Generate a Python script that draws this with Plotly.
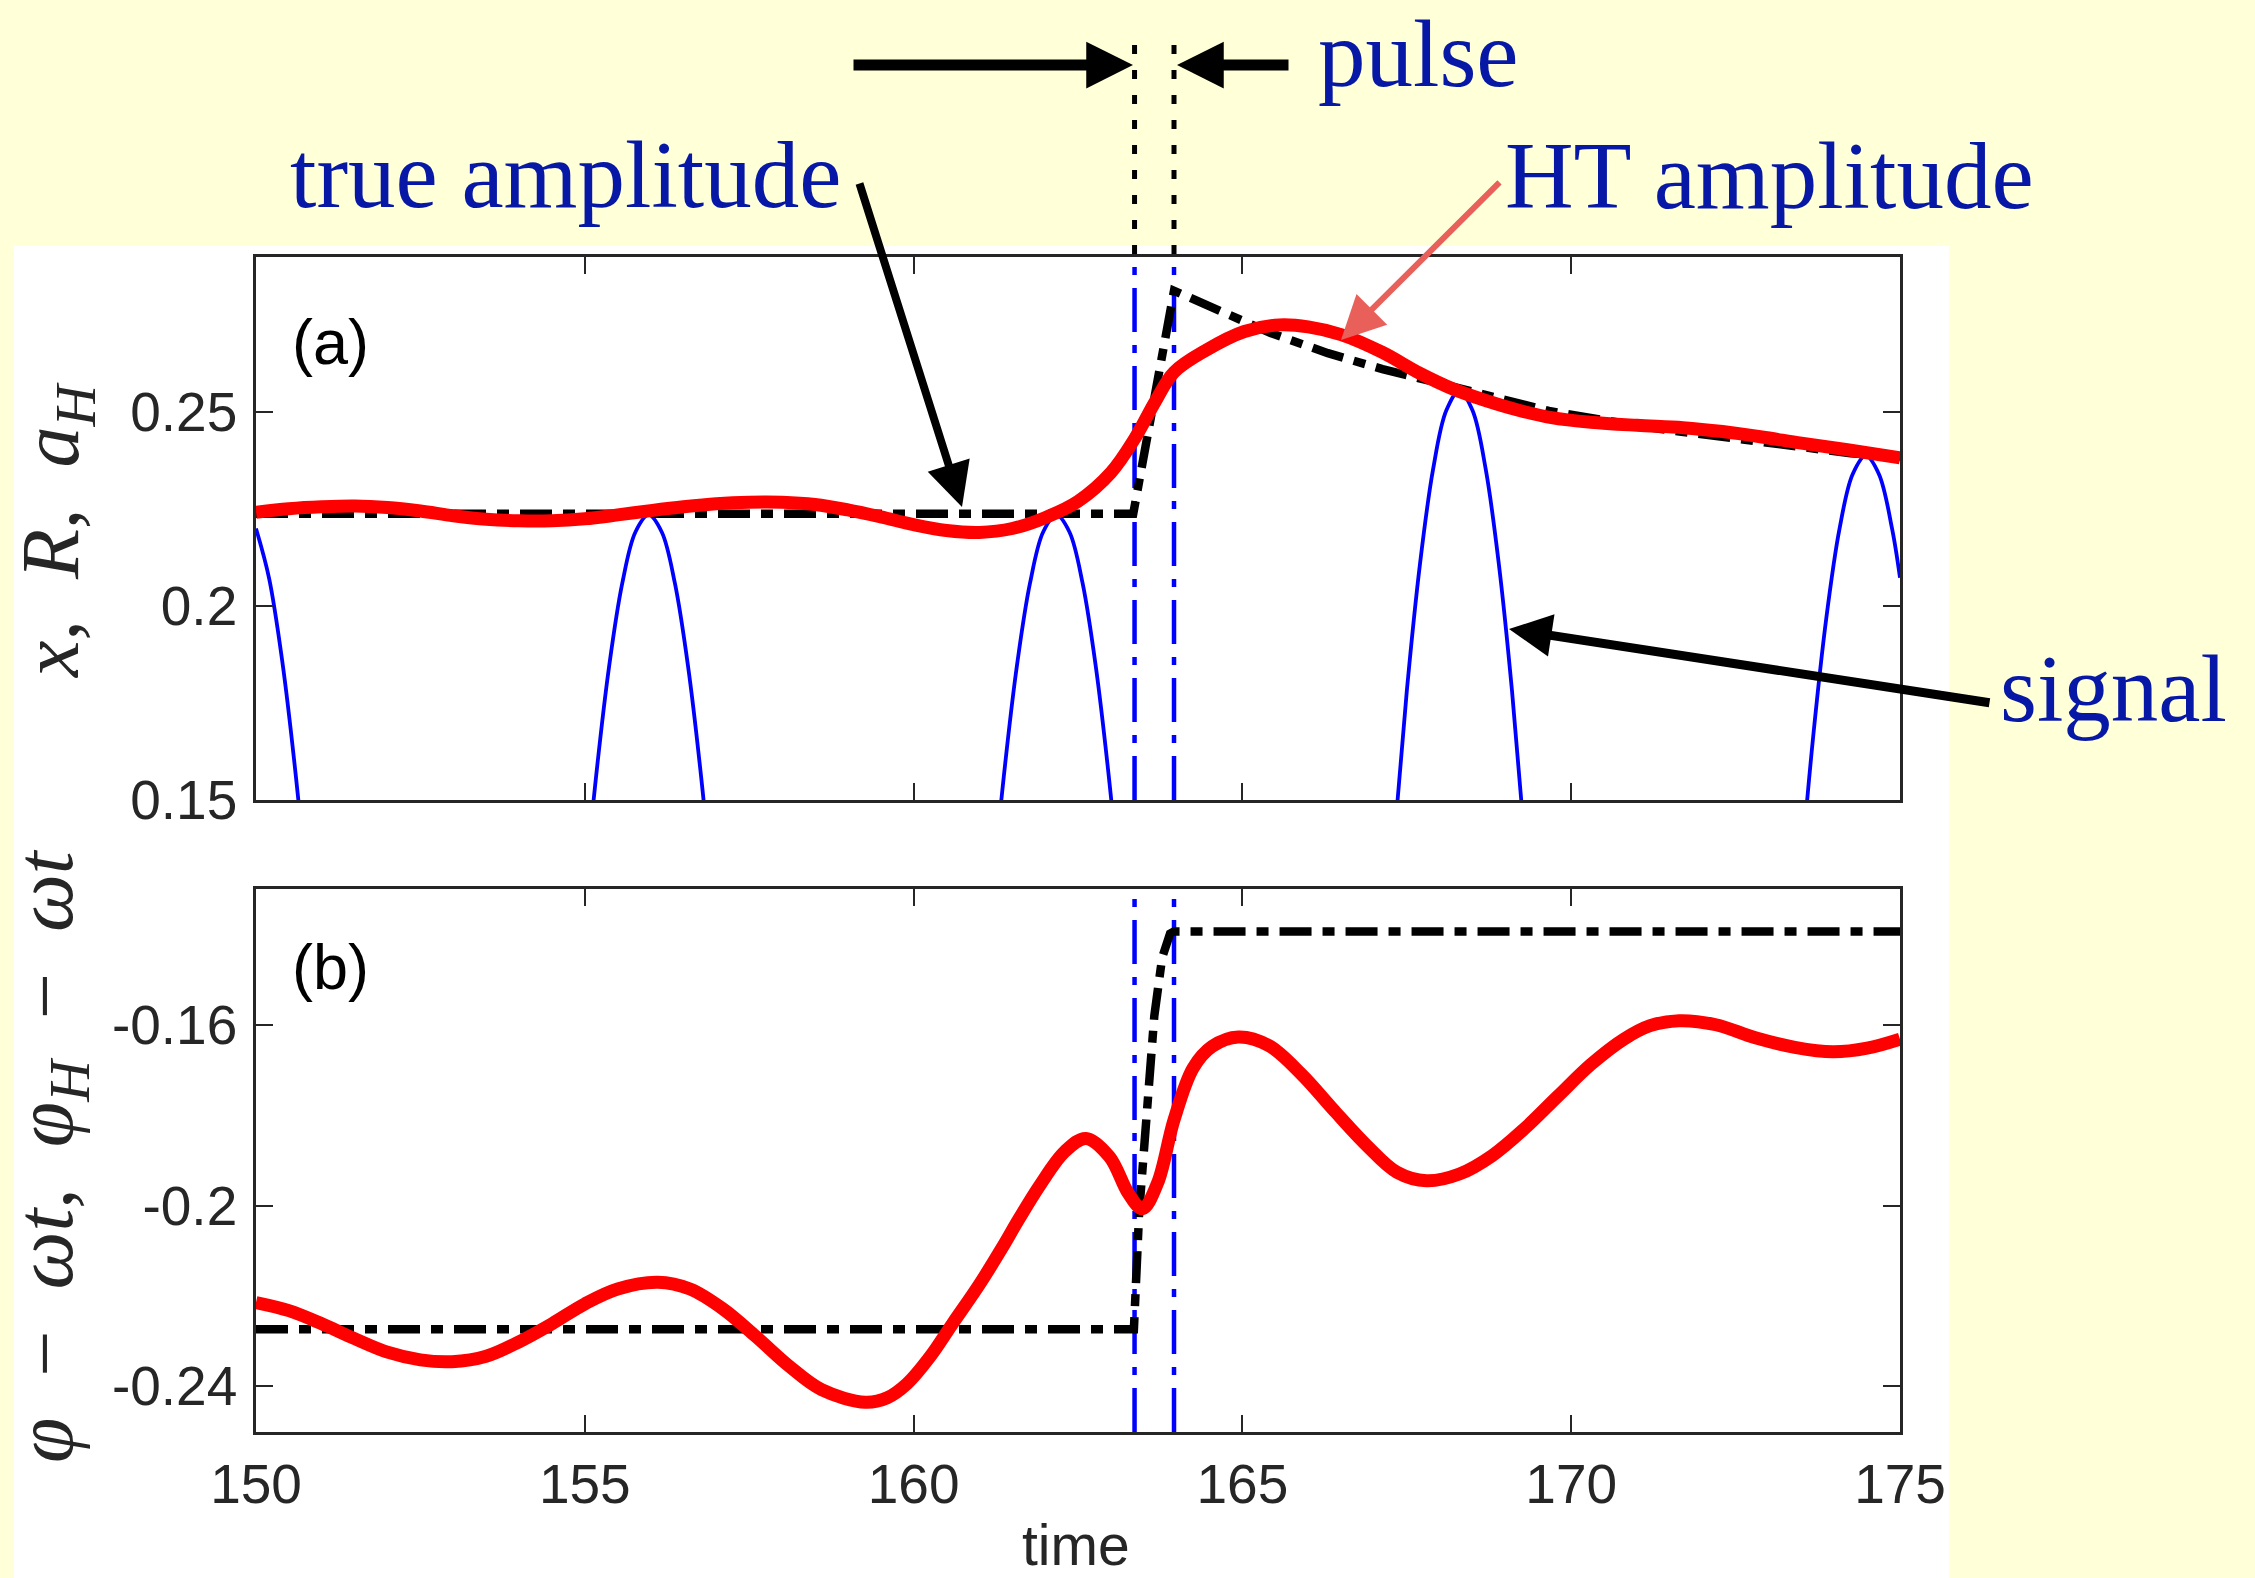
import plotly.graph_objects as go

# ---------------- data ----------------
time_ticks = [150, 155, 160, 165, 170, 175]
time_ticktext = ["150", "155", "160", "165", "170", "175"]
amp_ticks = [0.15, 0.2, 0.25]
amp_ticktext = ["0.15", "0.2", "0.25"]
phase_ticks = [-0.24, -0.2, -0.16]
phase_ticktext = ["-0.24", "-0.2", "-0.16"]

pulse_start = 163.36
pulse_end = 163.96

# (a) HT amplitude (red)
ht_amp_t = [150.0, 150.5, 151.0, 151.5, 152.0, 152.5, 153.0, 153.5, 154.0, 154.5,
            155.0, 155.5, 156.0, 156.5, 157.0, 157.5, 158.0, 158.5, 159.0, 159.5,
            160.0, 160.5, 161.0, 161.5, 162.0, 162.5, 163.0, 163.36, 163.67, 163.96,
            164.45, 165.03, 165.56, 166.0, 166.5, 167.13, 167.7, 168.2, 168.7, 169.2,
            169.7, 170.3, 171.0, 171.7, 172.3, 172.9, 173.5, 174.2, 175.0]
ht_amp_v = [0.2242, 0.2251, 0.2256, 0.2258, 0.2254, 0.2245, 0.2233, 0.2224, 0.2220, 0.2220,
            0.2225, 0.2235, 0.2246, 0.2256, 0.2264, 0.2268, 0.2268, 0.2262, 0.2248, 0.2230,
            0.2210, 0.2195, 0.2190, 0.2200, 0.2228, 0.2270, 0.2344, 0.2431, 0.2526, 0.2603,
            0.2660, 0.2708, 0.2725, 0.2720, 0.2700, 0.2654, 0.2600, 0.2560, 0.2530, 0.2505,
            0.2486, 0.2474, 0.2466, 0.2460, 0.2450, 0.2436, 0.2420, 0.2403, 0.2382]

# (a) true amplitude (black dash-dot)
true_amp_t = [150.0, 163.34, 163.96, 164.7, 165.43, 166.3, 167.13, 168.15, 169.66, 171.2,
              172.71, 174.25, 175.0]
true_amp_v = [0.2238, 0.2238, 0.2813, 0.2760, 0.2704, 0.2652, 0.2611, 0.2568, 0.2503, 0.2460,
              0.2426, 0.2394, 0.2384]

# (a) signal x(t): the visible crests
crest1_t = [150.0, 150.2, 150.4, 150.6, 150.8, 151.0]
crest1_v = [0.2200, 0.2071, 0.1857, 0.1571, 0.1225, 0.0830]
crest2_t = [154.77, 154.97, 155.17, 155.37, 155.57, 155.77, 155.97, 156.17, 156.37, 156.57,
            156.77, 156.97, 157.17]
crest2_v = [0.0810, 0.1208, 0.1558, 0.1845, 0.2059, 0.2191, 0.2235, 0.2191, 0.2059, 0.1845,
            0.1558, 0.1208, 0.0810]
crest3_t = [160.97, 161.17, 161.37, 161.57, 161.77, 161.97, 162.17, 162.37, 162.57, 162.77,
            162.97, 163.17, 163.37]
crest3_v = [0.0810, 0.1208, 0.1558, 0.1845, 0.2059, 0.2191, 0.2235, 0.2191, 0.2059, 0.1845,
            0.1558, 0.1208, 0.0810]
crest4_t = [167.1, 167.3, 167.5, 167.7, 167.9, 168.1, 168.3, 168.5, 168.7, 168.9, 169.1,
            169.3, 169.5]
crest4_v = [0.0925, 0.1380, 0.1781, 0.2108, 0.2353, 0.2504, 0.2555, 0.2504, 0.2353, 0.2108,
            0.1781, 0.1380, 0.0925]
crest5_t = [173.28, 173.48, 173.68, 173.88, 174.08, 174.28, 174.48, 174.68, 174.88, 175.0]
crest5_v = [0.0865, 0.1290, 0.1664, 0.1970, 0.2199, 0.2340, 0.2388, 0.2340, 0.2199, 0.2073]

# (b) HT phase (red)
ht_phase_t = [150.0, 150.5, 151.0, 151.5, 152.0, 152.5, 152.98, 153.5, 154.0, 154.5,
              155.0, 155.5, 156.11, 156.6, 157.1, 157.6, 158.1, 158.6, 159.27, 159.6,
              159.9, 160.25, 160.6, 161.0, 161.34, 161.6, 161.92, 162.3, 162.62, 162.98,
              163.27, 163.48, 163.71, 163.96, 164.25, 164.54, 164.94, 165.4, 165.9, 166.4,
              166.9, 167.35, 167.8, 168.3, 168.8, 169.3, 169.8, 170.3, 170.8, 171.2,
              171.64, 172.2, 172.8, 173.4, 173.98, 174.5, 175.0]
ht_phase_v = [-0.2215, -0.2233, -0.2262, -0.2295, -0.2325, -0.2342, -0.2346, -0.2334, -0.2302, -0.2262,
              -0.2218, -0.2185, -0.2170, -0.2185, -0.2229, -0.2290, -0.2355, -0.2408, -0.2436, -0.2426,
              -0.2395, -0.2335, -0.2260, -0.2175, -0.2095, -0.2030, -0.1955, -0.1880, -0.1851, -0.1892,
              -0.1974, -0.2007, -0.1950, -0.1810, -0.1695, -0.1647, -0.1626, -0.1645, -0.1709, -0.1790,
              -0.1868, -0.1926, -0.1945, -0.1930, -0.1889, -0.1828, -0.1757, -0.1687, -0.1631, -0.1601,
              -0.1590, -0.1599, -0.1628, -0.1649, -0.1659, -0.1651, -0.1631]

# (b) true phase (black dash-dot)
true_phase_t = [150.0, 163.35, 163.43, 163.54, 163.66, 163.78, 163.9, 163.96, 175.0]
true_phase_v = [-0.2274, -0.2274, -0.2015, -0.1810, -0.1580, -0.1450, -0.1397, -0.1392, -0.1392]

# ---------------- styling / layout ----------------
W, H = 2255, 1578
ML, MR, MT, MB = 256, 355, 257, 146
PW = W - ML - MR
PH = H - MT - MB


def px(x):
    return (x - ML) / PW


def py(y):
    return (H - MB - y) / PH


BLUE_TXT = "#0718A6"
AX = "#262626"
DASHDOT = "32px,11px,12px,11px"
VDASH = "44px,13px,8px,13px"

signal_t, signal_v = [], []
for ct, cv in [(crest1_t, crest1_v), (crest2_t, crest2_v), (crest3_t, crest3_v),
               (crest4_t, crest4_v), (crest5_t, crest5_v)]:
    signal_t += ct + [None]
    signal_v += cv + [None]

fig = go.Figure()
fig.add_trace(go.Scatter(x=signal_t, y=signal_v, mode="lines", xaxis="x", yaxis="y",
                         line=dict(color="#0000FF", width=3.8, shape="spline"),
                         connectgaps=False, showlegend=False))
fig.add_trace(go.Scatter(x=true_amp_t, y=true_amp_v, mode="lines", xaxis="x", yaxis="y",
                         line=dict(color="black", width=8.5, dash=DASHDOT), showlegend=False))
fig.add_trace(go.Scatter(x=ht_amp_t, y=ht_amp_v, mode="lines", xaxis="x", yaxis="y",
                         line=dict(color="#FF0000", width=13, shape="spline", smoothing=1.0),
                         showlegend=False))
fig.add_trace(go.Scatter(x=true_phase_t, y=true_phase_v, mode="lines", xaxis="x2", yaxis="y2",
                         line=dict(color="black", width=8.5, dash=DASHDOT), showlegend=False))
fig.add_trace(go.Scatter(x=ht_phase_t, y=ht_phase_v, mode="lines", xaxis="x2", yaxis="y2",
                         line=dict(color="#FF0000", width=13, shape="spline", smoothing=1.0),
                         showlegend=False))

axis_common = dict(showline=True, linecolor=AX, linewidth=2.5, mirror="ticks", ticks="inside",
                   ticklen=17, tickwidth=2, tickcolor=AX, showgrid=False, zeroline=False,
                   tickfont=dict(family="Liberation Sans, Arial", size=55, color=AX),
                   automargin=False, fixedrange=True)

shapes = [
    dict(type="rect", xref="paper", yref="paper", x0=px(14), x1=px(1949), y0=py(1578), y1=py(246),
         fillcolor="white", line=dict(width=0), layer="below"),
]
for t in (pulse_start, pulse_end):
    for xr, yr in (("x", "y domain"), ("x2", "y2 domain")):
        shapes.append(dict(type="line", xref=xr, yref=yr, x0=t, x1=t, y0=0, y1=1,
                           line=dict(color="#0000FF", width=4.5, dash=VDASH), layer="below"))
    shapes.append(dict(type="line", xref="x", yref="paper", x0=t, x1=t, y0=py(254), y1=py(43),
                       line=dict(color="black", width=5, dash="9px,16px")))


def arrow(tip, tail, color, width, size):
    return dict(x=px(tip[0]), y=py(tip[1]), xref="paper", yref="paper",
                ax=tail[0] - tip[0], ay=tail[1] - tip[1], axref="pixel", ayref="pixel",
                text="", showarrow=True, arrowhead=2, arrowsize=size, arrowwidth=width,
                arrowcolor=color)


def label(text, x, y, size=95, anchor="left"):
    return dict(text=text, x=px(x), y=py(y), xref="paper", yref="paper", xanchor=anchor,
                yanchor="middle", showarrow=False,
                font=dict(family="Liberation Serif, Times New Roman", size=size, color=BLUE_TXT))


annotations = [
    arrow((1133, 65), (852, 65), "black", 11, 0.85),
    arrow((1177, 65), (1290, 65), "black", 11, 0.85),
    arrow((962, 507), (859, 182), "black", 8, 1.1),
    arrow((1341, 340), (1501, 181), "#E9605A", 6, 1.45),
    arrow((1509, 629), (1991, 703), "black", 9, 0.95),
    label("pulse", 1316, 54),
    label("true amplitude", 288, 175),
    label("HT amplitude", 1503, 176),
    label("signal", 1998, 689),
    dict(text="(a)", x=151.14, y=0.2681, xref="x", yref="y", showarrow=False,
         xanchor="center", yanchor="middle",
         font=dict(family="Liberation Sans, Arial", size=63, color="black")),
    dict(text="(b)", x=151.14, y=-0.1472, xref="x2", yref="y2", showarrow=False,
         xanchor="center", yanchor="middle",
         font=dict(family="Liberation Sans, Arial", size=63, color="black")),
    dict(text="time", x=px(1076), y=py(1545), xref="paper", yref="paper", showarrow=False,
         xanchor="center", yanchor="middle",
         font=dict(family="Liberation Sans, Arial", size=57, color=AX)),
    dict(text="<i>x</i>,\u2002<i>R</i>,\u2002<i>a</i><sub><i>H</i></sub>",
         x=px(56), y=py(530), xref="paper", yref="paper", showarrow=False, textangle=-90,
         xanchor="center", yanchor="middle",
         font=dict(family="Liberation Serif, Times New Roman", size=82, color=AX)),
    dict(text="<i>\u03c6</i>\u2002\u2212\u2002<i>\u03c9t</i>,\u2002<i>\u03c6</i><sub><i>H</i></sub>"
              "\u2002\u2212\u2002<i>\u03c9t</i>",
         x=px(50), y=py(1156), xref="paper", yref="paper", showarrow=False, textangle=-90,
         xanchor="center", yanchor="middle",
         font=dict(family="Liberation Serif, Times New Roman", size=82, color=AX)),
]

fig.update_layout(
    template="none",
    width=W, height=H,
    margin=dict(l=ML, r=MR, t=MT, b=MB, pad=0),
    paper_bgcolor="#FFFFD8",
    plot_bgcolor="white",
    showlegend=False,
    xaxis=dict(domain=[0, 1], range=[150, 175], tickvals=time_ticks, showticklabels=False,
               anchor="y", **axis_common),
    yaxis=dict(domain=[py(800), 1], range=[0.15, 0.29], tickvals=amp_ticks, ticktext=amp_ticktext,
               anchor="x", ticklabelstandoff=5, **axis_common),
    xaxis2=dict(domain=[0, 1], range=[150, 175], tickvals=time_ticks, ticktext=time_ticktext,
                anchor="y2", ticklabelstandoff=2, **axis_common),
    yaxis2=dict(domain=[0, py(889)], range=[-0.2502, -0.1298], tickvals=phase_ticks,
                ticktext=phase_ticktext, anchor="x2", ticklabelstandoff=5, **axis_common),
    shapes=shapes,
    annotations=annotations,
)

fig.write_html("out.html")
